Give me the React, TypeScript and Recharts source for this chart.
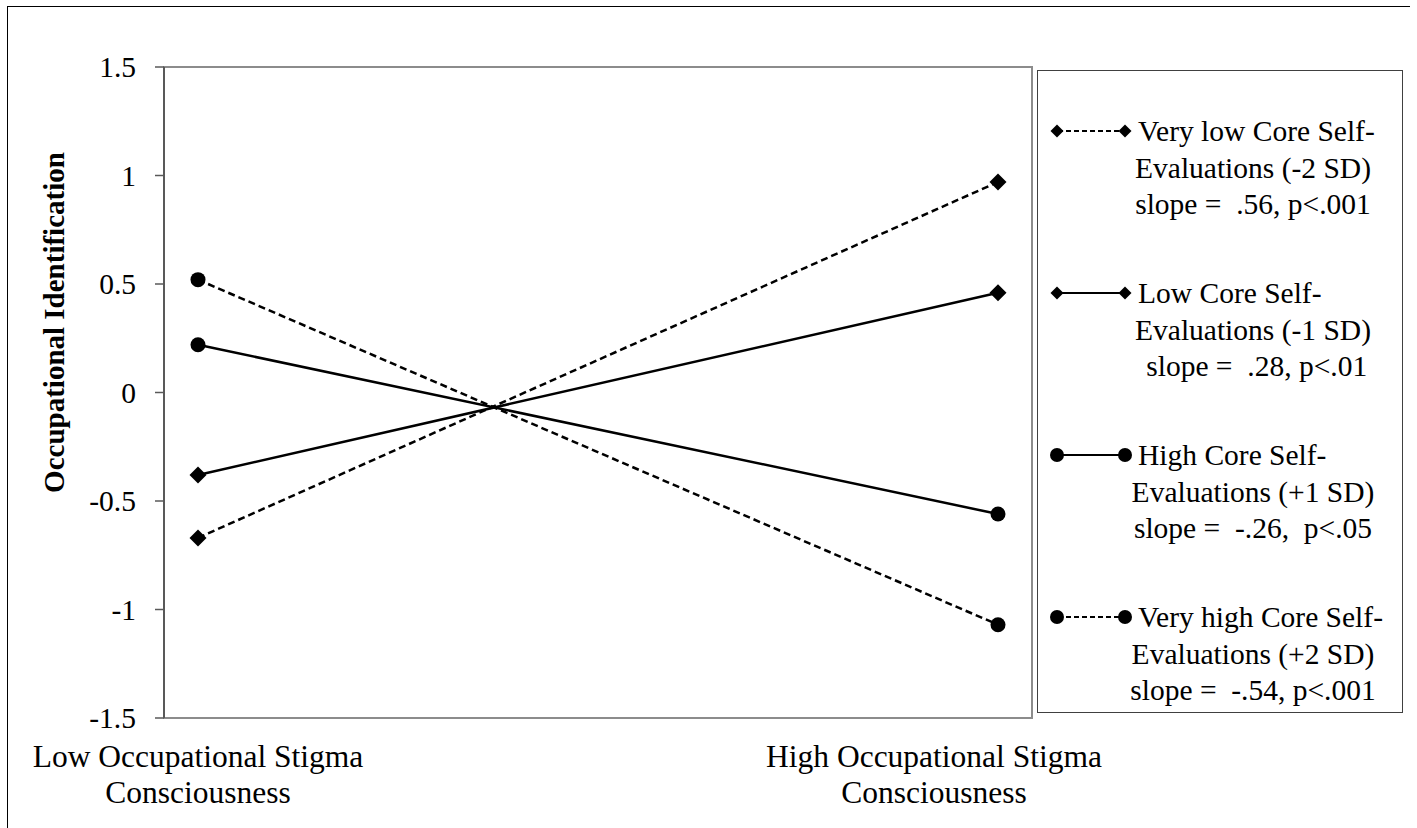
import React from "react";
import {
  Label,
  Legend,
  Line,
  LineChart,
  ReferenceArea,
  XAxis,
  YAxis,
} from "recharts";

const FONT = '"Liberation Serif", "Times New Roman", serif';

// x positions of the two conditions and their (two-line) labels
const xPositions = [0, 1];
const xCategoryLines = [
  ["Low Occupational Stigma", "Consciousness"],
  ["High Occupational Stigma", "Consciousness"],
];

// simple slopes, low vs high stigma consciousness
const veryLowCse = [-0.67, 0.97];
const lowCse = [-0.38, 0.46];
const highCse = [0.22, -0.56];
const veryHighCse = [0.52, -1.07];

const yTicks = [-1.5, -1, -0.5, 0, 0.5, 1, 1.5];

const seriesKeys = ["veryLow", "low", "high", "veryHigh"];
const seriesLine1 = [
  "Very low Core Self-",
  "Low Core Self-",
  "High Core Self-",
  "Very high Core Self-",
];
const seriesLine2 = [
  "Evaluations (-2 SD)",
  "Evaluations (-1 SD)",
  "Evaluations (+1 SD)",
  "Evaluations (+2 SD)",
];
const seriesSlopes = [
  "slope =  .56, p<.001",
  " slope =  .28, p<.01",
  "slope =  -.26,  p<.05",
  "slope =  -.54, p<.001",
];
const seriesMarker = ["diamond", "diamond", "circle", "circle"];
const seriesDashed = [true, false, false, true];

const data = xPositions.map((x, i) => ({
  x,
  veryLow: veryLowCse[i],
  low: lowCse[i],
  high: highCse[i],
  veryHigh: veryHighCse[i],
}));

function Marker({ kind, cx, cy, size }: { kind: string; cx: number; cy: number; size: number }) {
  if (kind === "circle") {
    return <circle cx={cx} cy={cy} r={size / 2} fill="#000" />;
  }
  const h = size / 2;
  return (
    <path
      d={`M${cx},${cy - h}L${cx + h},${cy}L${cx},${cy + h}L${cx - h},${cy}Z`}
      fill="#000"
    />
  );
}

function makeDot(kind: string, key: string) {
  return (props: any) => {
    const { cx, cy, index } = props;
    if (cx == null || cy == null) return <g key={`${key}-${index}`} />;
    return (
      <g key={`${key}-${index}`}>
        <Marker kind={kind} cx={cx} cy={cy} size={kind === "circle" ? 15 : 17} />
      </g>
    );
  };
}

function CategoryTick(props: any) {
  const { x, y, payload } = props;
  const lines = xCategoryLines[payload.value] || [];
  const shift = payload.value === 1 ? -64 : 0;
  const tx = x + shift;
  return (
    <text x={tx} y={y} textAnchor="middle" fontFamily={FONT} fontSize={31.5} fill="#000">
      {lines.map((l, i) => (
        <tspan key={i} x={tx} dy={i === 0 ? 49 : 36}>
          {l}
        </tspan>
      ))}
    </text>
  );
}

function LegendBox() {
  return (
    <div
      style={{
        boxSizing: "border-box",
        width: 366,
        height: 643,
        border: "1.5px solid #404040",
        paddingTop: 42,
        fontFamily: FONT,
        fontSize: 29.5,
        color: "#000",
        background: "#fff",
      }}
    >
      {seriesKeys.map((k, i) => (
        <div key={k} style={{ height: 109.5, marginBottom: 52.5 }}>
          <div style={{ display: "flex", alignItems: "center", height: 36.5, whiteSpace: "pre" }}>
            <svg width={100} height={36.5} style={{ flex: "none" }}>
              <line
                x1={20}
                y1={18}
                x2={86}
                y2={18}
                stroke="#000"
                strokeWidth={2}
                strokeDasharray={seriesDashed[i] ? "5 3" : undefined}
              />
              <Marker kind={seriesMarker[i]} cx={19} cy={18} size={seriesMarker[i] === "circle" ? 14 : 13} />
              <Marker kind={seriesMarker[i]} cx={87} cy={18} size={seriesMarker[i] === "circle" ? 14 : 13} />
            </svg>
            <span>{seriesLine1[i]}</span>
          </div>
          <div style={{ marginLeft: 70, width: 290, textAlign: "center", height: 36.5, lineHeight: "36.5px", whiteSpace: "pre" }}>
            {seriesLine2[i]}
          </div>
          <div style={{ marginLeft: 70, width: 290, textAlign: "center", height: 36.5, lineHeight: "36.5px", whiteSpace: "pre" }}>
            {seriesSlopes[i]}
          </div>
        </div>
      ))}
    </div>
  );
}

export default function App() {
  return (
    <div style={{ position: "absolute", left: 0, top: 0, width: 1417, height: 828, background: "#fff", overflow: "hidden" }}>
      <div
        style={{
          position: "absolute",
          left: 7,
          top: 6,
          width: 1403,
          height: 900,
          borderLeft: "1.5px solid #000",
          borderTop: "1.5px solid #000",
          boxSizing: "border-box",
        }}
      />
      <LineChart
        width={1417}
        height={828}
        data={data}
        margin={{ top: 67, right: 385, bottom: 20, left: 0 }}
        style={{ position: "absolute", left: 0, top: 0 }}
      >
        <ReferenceArea
          x1={-0.0425}
          x2={1.0425}
          y1={-1.5}
          y2={1.5}
          fill="none"
          stroke="#8c8c8c"
          strokeWidth={2}
          ifOverflow="visible"
        />
        <XAxis
          dataKey="x"
          type="number"
          domain={[-0.0425, 1.0425]}
          allowDataOverflow
          ticks={xPositions}
          tickLine={false}
          tickSize={0}
          tickMargin={0}
          height={90}
          axisLine={{ stroke: "#8c8c8c", strokeWidth: 2 }}
          tick={<CategoryTick />}
          interval={0}
        />
        <YAxis
          type="number"
          domain={[-1.5, 1.5]}
          ticks={yTicks}
          width={164}
          tickSize={9}
          tickMargin={19}
          interval={0}
          axisLine={{ stroke: "#595959", strokeWidth: 2 }}
          tickLine={{ stroke: "#595959", strokeWidth: 1.5 }}
          tick={{ fontFamily: FONT, fontSize: 29.5, fill: "#000" }}
        >
          <Label
            content={(props: any) => {
              const vb = props.viewBox || { x: 0, y: 0, height: 0 };
              const cx = vb.x + 54;
              const cy = vb.y + vb.height / 2 - 70;
              return (
                <text
                  x={cx}
                  y={cy}
                  transform={`rotate(-90 ${cx} ${cy})`}
                  textAnchor="middle"
                  dominantBaseline="central"
                  fontFamily={FONT}
                  fontSize={29}
                  fontWeight="bold"
                  fill="#000"
                >
                  Occupational Identification
                </text>
              );
            }}
          />
        </YAxis>
        {seriesKeys.map((k, i) => (
          <Line
            key={k}
            type="linear"
            dataKey={k}
            stroke="#000"
            strokeWidth={2.5}
            strokeDasharray={seriesDashed[i] ? "7 4" : undefined}
            dot={makeDot(seriesMarker[i], k)}
            activeDot={false}
            isAnimationActive={false}
          />
        ))}
        <Legend
          layout="horizontal"
          verticalAlign="middle"
          align="center"
          content={() => <LegendBox />}
          wrapperStyle={{ left: 1037, top: 70, width: 366, height: 643 }}
        />
      </LineChart>
    </div>
  );
}
